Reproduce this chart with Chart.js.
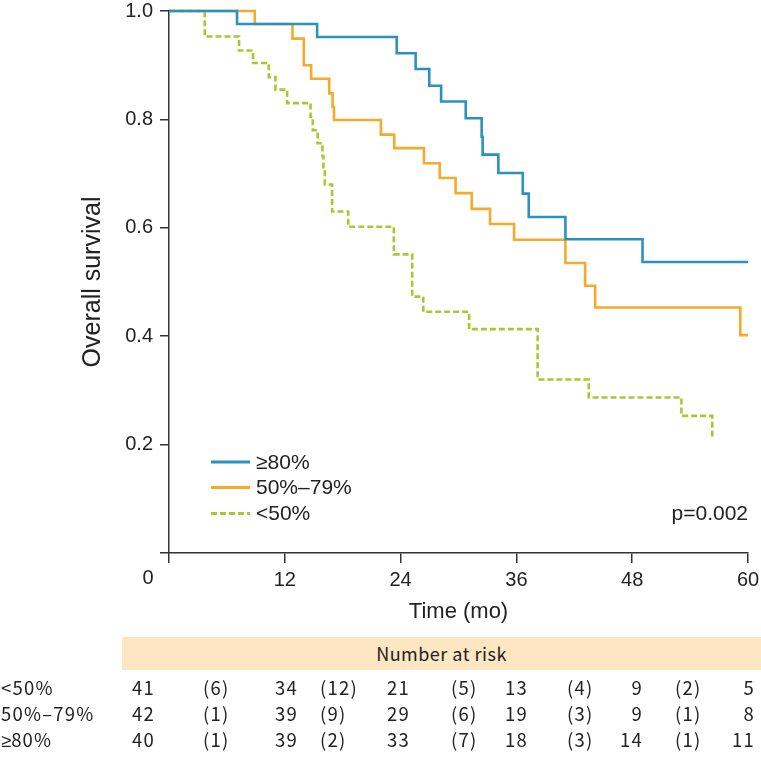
<!DOCTYPE html>
<html>
<head>
<meta charset="utf-8">
<script src="https://cdn.jsdelivr.net/npm/chart.js@4.4.1/dist/chart.umd.min.js"></script>
<style>
  body { margin: 0; background: #fff; }
  #wrap { position: relative; width: 761px; height: 760px; }
  #risk { position: absolute; left: 0; top: 0; width: 761px; height: 760px; color: #222;
          font-family: "Noto Sans CJK KR", "Noto Sans", sans-serif; font-size: 18.5px; letter-spacing: 1.2px; }
  .band { position: absolute; left: 122px; top: 637px; width: 639px; height: 33px; background: #fde6c2;
          text-align: center; line-height: 33px; font-size: 18px; letter-spacing: 0.5px; }
  .cell { position: absolute; white-space: nowrap; line-height: 20px; }
  .sign { font-family: "Noto Sans", sans-serif; letter-spacing: 0; }
</style>
</head>
<body>
<div id="wrap">
  <canvas id="km" width="761" height="760"></canvas>
  <div id="risk"><div class="band">Number at risk</div></div>
</div>
<script>
// Kaplan-Meier steps (time in months, survival after each drop)
const timeHigh = [0, 7.05, 15.35, 23.6, 25.56, 26.97, 28.2, 30.75, 32.4, 32.5, 34.13, 36.66, 37.28, 41.08, 49.07, 60]
const survHigh = [1, 0.976, 0.952, 0.922, 0.893, 0.862, 0.833, 0.802, 0.768, 0.735, 0.701, 0.663, 0.620, 0.579, 0.537, 0.537]

const timeMid = [0, 8.89, 12.8, 13.97, 14.73, 16.6, 16.95, 17.1, 21.96, 23.34, 26.42, 28.05, 29.7, 31.37, 33.27, 35.76, 41.08, 43.12, 44.16, 59.2, 60]
const survMid = [1, 0.976, 0.949, 0.900, 0.875, 0.848, 0.823, 0.799, 0.772, 0.747, 0.719, 0.692, 0.664, 0.635, 0.607, 0.578, 0.535, 0.493, 0.453, 0.402, 0.402]

const timeLow = [0, 3.7, 7.26, 8.71, 10.34, 11.03, 12.24, 14.67, 14.9, 15.4, 15.9, 16.0, 16.15, 16.9, 18.57, 23.3, 25.2, 26.35, 31.1, 38.2, 43.5, 53.1, 56.3]
const survLow = [1, 0.953, 0.927, 0.904, 0.878, 0.855, 0.830, 0.805, 0.780, 0.756, 0.732, 0.707, 0.680, 0.630, 0.602, 0.551, 0.473, 0.445, 0.413, 0.320, 0.287, 0.253, 0.215]

const groupLabels = ["≥80%", "50%–79%", "<50%"]
const groupColors = ["#2a92bf", "#f5aa2a", "#a8c832"]

const xTicks = [0, 12, 24, 36, 48, 60]
const yTicks = [0, 0.2, 0.4, 0.6, 0.8, 1.0]
const pValue = "p=0.002"

// Number at risk table (rows top to bottom)
const riskLabels = ["<50%", "50%–79%", "≥80%"]
const atRiskLow = [41, 34, 21, 13, 9, 5]
const atRiskMid = [42, 39, 29, 19, 9, 8]
const atRiskHigh = [40, 39, 33, 18, 14, 11]
const censLow = [6, 12, 5, 4, 2]
const censMid = [1, 9, 6, 3, 1]
const censHigh = [1, 2, 7, 3, 1]

const AXIS = "#333"
const TEXT = "#222"

function toPoints(ts, ss) {
  return ts.map((t, i) => ({ x: t, y: ss[i] }))
}

// Titles, origin label, legend and p value
const extras = {
  id: "extras",
  afterDraw(chart) {
    const { ctx, chartArea: a } = chart
    ctx.save()
    ctx.fillStyle = TEXT

    // y title
    ctx.font = '25px "Liberation Sans", Arial, sans-serif'
    ctx.textAlign = "center"
    ctx.textBaseline = "middle"
    ctx.save()
    ctx.translate(93, (a.top + a.bottom) / 2)
    ctx.rotate(-Math.PI / 2)
    ctx.fillText("Overall survival", 0, 0)
    ctx.restore()

    // x title
    ctx.font = '22px "Liberation Sans", Arial, sans-serif'
    ctx.fillText("Time (mo)", (a.left + a.right) / 2, 612)

    // shared origin label
    ctx.font = '20px "Liberation Sans", Arial, sans-serif'
    ctx.fillText("0", 148, 578)

    // legend
    ctx.font = '21px "Liberation Sans", Arial, sans-serif'
    ctx.textAlign = "left"
    const rows = [462, 487.5, 513.5]
    chart.data.datasets.forEach((ds, i) => {
      ctx.strokeStyle = ds.borderColor
      ctx.lineWidth = 3
      ctx.setLineDash(ds.borderDash || [])
      ctx.beginPath()
      ctx.moveTo(211, rows[i])
      ctx.lineTo(250, rows[i])
      ctx.stroke()
      ctx.setLineDash([])
      ctx.fillText(ds.label, 256, rows[i] + 1)
    })

    // p value
    ctx.textAlign = "right"
    ctx.fillText(pValue, a.right, 514)
    ctx.restore()
  },
}

const ctx = document.getElementById("km").getContext("2d")

new Chart(ctx, {
  type: "line",
  data: {
    datasets: [
      { label: groupLabels[0], data: toPoints(timeHigh, survHigh), borderColor: groupColors[0] },
      { label: groupLabels[1], data: toPoints(timeMid, survMid), borderColor: groupColors[1] },
      { label: groupLabels[2], data: toPoints(timeLow, survLow), borderColor: groupColors[2], borderDash: [6, 3] },
    ].map(ds => ({ ...ds, stepped: true, borderWidth: 2.6, pointRadius: 0, fill: false, clip: 4 })),
  },
  options: {
    responsive: false,
    devicePixelRatio: 1,
    animation: false,
    layout: { padding: { top: 11, right: 13, left: 0, bottom: 0 } },
    plugins: { legend: { display: false }, tooltip: { enabled: false } },
    scales: {
      x: {
        type: "linear",
        min: 0,
        max: 60,
        afterBuildTicks: s => { s.ticks = xTicks.map(v => ({ value: v })) },
        afterFit: s => {
          s.height = 760 - 553
          s.paddingLeft = 0
          s.paddingRight = 0
        },
        ticks: {
          callback: v => (v === 0 ? "" : v),
          color: TEXT,
          padding: 5,
          maxRotation: 0,
          font: { family: '"Liberation Sans", Arial, sans-serif', size: 20 },
        },
        grid: { drawOnChartArea: false, tickLength: 10, color: AXIS, lineWidth: 1.5 },
        border: { color: AXIS, width: 1.5 },
      },
      y: {
        min: 0,
        max: 1,
        afterBuildTicks: s => { s.ticks = yTicks.map(v => ({ value: v })) },
        afterFit: s => {
          s.width = 169
          s.paddingTop = 0
          s.paddingBottom = 0
        },
        ticks: {
          callback: v => (v === 0 ? "" : v.toFixed(1)),
          color: TEXT,
          padding: 7,
          font: { family: '"Liberation Sans", Arial, sans-serif', size: 20 },
        },
        grid: { drawOnChartArea: false, tickLength: 9, color: AXIS, lineWidth: 1.5 },
        border: { color: AXIS, width: 1.5 },
      },
    },
  },
  plugins: [extras],
})

// risk table in html below the plot
const risk = document.getElementById("risk")
const rowY = [687, 713, 739]
const countRight = [155, 298, 410, 528, 643, 755]
const censLeft = [203, 320, 451, 567, 675]
const counts = [atRiskLow, atRiskMid, atRiskHigh]
const cens = [censLow, censMid, censHigh]

function addCell(text, x, y, align) {
  const el = document.createElement("div")
  el.className = "cell"
  // the CJK font has a full width >= sign, so that one glyph comes from Noto Sans
  if (text.startsWith("≥")) {
    const s = document.createElement("span")
    s.className = "sign"
    s.textContent = "≥"
    el.appendChild(s)
    el.appendChild(document.createTextNode(text.slice(1)))
  } else {
    el.textContent = text
  }
  el.style.top = (y - 10) + "px"
  if (align === "right") el.style.right = (761 - x) + "px"
  else el.style.left = x + "px"
  risk.appendChild(el)
}

riskLabels.forEach((label, r) => {
  addCell(label, 1, rowY[r], "left")
  counts[r].forEach((n, c) => addCell(String(n), countRight[c], rowY[r], "right"))
  cens[r].forEach((n, c) => addCell(`(${n})`, censLeft[c], rowY[r], "left"))
})
</script>
</body>
</html>
